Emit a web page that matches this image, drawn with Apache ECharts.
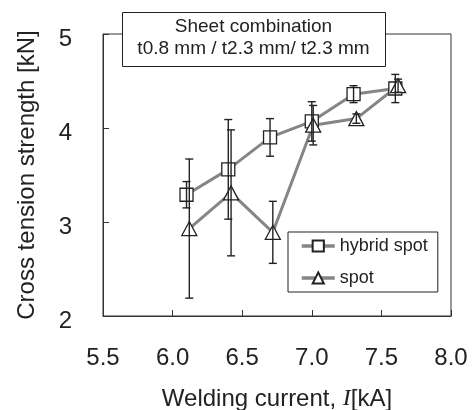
<!DOCTYPE html>
<html>
<head>
<meta charset="utf-8">
<script src="https://cdn.jsdelivr.net/npm/echarts@6/dist/echarts.min.js"></script>
<style>
html,body{margin:0;padding:0;background:#fff;}
#c{width:472px;height:410px;}
</style>
</head>
<body>
<div id="c"></div>
<script>
// Data
const hybridX = [6.10, 6.40, 6.70, 7.00, 7.30, 7.60];
const hybridY = [3.29, 3.56, 3.90, 4.07, 4.36, 4.42];
const hybridErr = [0.14, 0.53, 0.20, 0.21, 0.09, 0.15];
const spotX = [6.12, 6.42, 6.72, 7.01, 7.32, 7.62];
const spotY = [2.93, 3.31, 2.89, 4.03, 4.10, 4.45];
const spotErr = [0.74, 0.67, 0.33, 0.21, 0.05, 0.07];
const seriesNames = ['hybrid spot', 'spot'];
const titleLines = ['Sheet combination', 't0.8 mm / t2.3 mm/ t2.3 mm'];
const xTitle = 'Welding current, {i|I}[kA]';
const yTitle = 'Cross tension strength [kN]';

const FONT = '"Liberation Sans", Arial, sans-serif';
const chart = echarts.init(document.getElementById('c'));

function pairs(xs, ys) { return xs.map((x, i) => [x, ys[i]]); }
function errData(xs, ys, es) { return xs.map((x, i) => [x, ys[i] - es[i], ys[i] + es[i]]); }

function renderErr(params, api) {
  const x = api.value(0);
  const lo = api.coord([x, api.value(1)]);
  const hi = api.coord([x, api.value(2)]);
  const hw = 4;
  const st = { stroke: '#222', lineWidth: 1.4 };
  return {
    type: 'group',
    children: [
      { type: 'line', shape: { x1: lo[0], y1: lo[1], x2: hi[0], y2: hi[1] }, style: st },
      { type: 'line', shape: { x1: lo[0] - hw, y1: lo[1], x2: lo[0] + hw, y2: lo[1] }, style: st },
      { type: 'line', shape: { x1: hi[0] - hw, y1: hi[1], x2: hi[0] + hw, y2: hi[1] }, style: st }
    ]
  };
}

const option = {
  animation: false,
  backgroundColor: '#fff',
  grid: { left: 103, right: 21, top: 34, bottom: 94, outerBoundsMode: 'none', containLabel: false,
          show: true, borderColor: '#333', borderWidth: 1, backgroundColor: 'transparent' },
  xAxis: {
    type: 'value', min: 5.5, max: 8.0, interval: 0.5,
    name: xTitle, nameLocation: 'middle', nameGap: 71,
    nameTextStyle: { fontSize: 24, color: '#222', fontFamily: FONT,
      rich: { i: { fontSize: 24, fontStyle: 'italic', fontFamily: '"Liberation Serif", serif', color: '#222' } } },
    axisLine: { lineStyle: { color: '#333', width: 1 } },
    axisTick: { inside: true, length: 6, lineStyle: { color: '#333' } },
    axisLabel: { fontSize: 24, color: '#222', fontFamily: FONT, margin: 30, formatter: v => v.toFixed(1) },
    splitLine: { show: false }
  },
  yAxis: {
    type: 'value', min: 2, max: 5, interval: 1,
    name: yTitle, nameLocation: 'middle', nameGap: 64,
    nameTextStyle: { fontSize: 24, color: '#222', fontFamily: FONT },
    axisLine: { lineStyle: { color: '#333', width: 1 } },
    axisTick: { inside: true, length: 6, lineStyle: { color: '#333' } },
    axisLabel: { fontSize: 24, color: '#222', fontFamily: FONT, margin: 31, verticalAlign: 'top', lineHeight: 10 },
    splitLine: { show: false }
  },
  legend: {
    data: seriesNames,
    orient: 'vertical',
    left: 288, top: 232,
    padding: [4, 10, 4, 12],
    itemGap: 12,
    itemWidth: 33, itemHeight: 14,
    borderColor: '#222', borderWidth: 1, borderRadius: 0,
    backgroundColor: '#fff',
    lineStyle: { width: 3.5, color: '#858585' },
    textStyle: { fontSize: 18, color: '#222', fontFamily: FONT, lineHeight: 20 }
  },
  series: [
    {
      name: seriesNames[0], type: 'line', data: pairs(hybridX, hybridY),
      symbol: 'rect', symbolSize: 13,
      lineStyle: { color: '#858585', width: 3 },
      itemStyle: { color: '#fff', borderColor: '#222', borderWidth: 1.3 },
      z: 2
    },
    {
      name: seriesNames[1], type: 'line', data: pairs(spotX, spotY),
      symbol: 'triangle', symbolSize: [15, 14],
      lineStyle: { color: '#858585', width: 3 },
      itemStyle: { color: '#fff', borderColor: '#222', borderWidth: 1.3 },
      z: 2
    },
    { type: 'custom', name: 'err1', data: errData(hybridX, hybridY, hybridErr), renderItem: renderErr, z: 5, silent: true },
    { type: 'custom', name: 'err2', data: errData(spotX, spotY, spotErr), renderItem: renderErr, z: 5, silent: true }
  ],
  graphic: [
    { type: 'rect', left: 122, top: 12, z: 100,
      shape: { width: 263, height: 54 },
      style: { fill: '#fff', stroke: '#222', lineWidth: 1 } },
    { type: 'text', x: 253.5, y: 27, z: 101,
      style: { text: titleLines[0], fontSize: 19, fontFamily: FONT, fill: '#222', align: 'center', verticalAlign: 'middle' } },
    { type: 'text', x: 253.5, y: 49, z: 101,
      style: { text: titleLines[1], fontSize: 19, fontFamily: FONT, fill: '#222', align: 'center', verticalAlign: 'middle' } }
  ]
};
chart.setOption(option);
</script>
</body>
</html>
